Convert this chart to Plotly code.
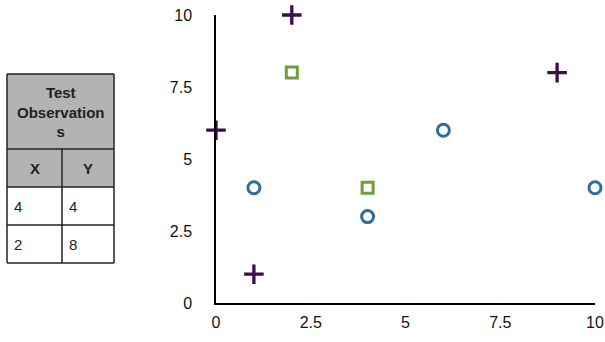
import plotly.graph_objects as go

plus_x = [0, 1, 2, 9]
plus_y = [6, 1, 10, 8]
circle_x = [1, 4, 6, 10]
circle_y = [4, 3, 6, 4]
square_x = [2, 4]
square_y = [8, 4]

table_title = "Test<br>Observation<br>s"
table_cols = ["X", "Y"]
table_x = [4, 2]
table_y = [4, 8]

tick_vals = [0, 2.5, 5, 7.5, 10]
tick_text = ["0", "2.5", "5", "7.5", "10"]

W, H = 605, 342
L, R, T, B = 216, 10, 15, 39
pw, ph = W - L - R, H - T - B

def px(x):
    return (x - L) / pw

def py(y):
    return (H - B - y) / ph

fig = go.Figure()
fig.add_trace(go.Scatter(x=plus_x, y=plus_y, mode="markers",
                         marker=dict(symbol="cross-thin", size=14, color="#3d0d4b",
                                     line=dict(width=3.3, color="#3d0d4b")),
                         cliponaxis=False, showlegend=False))
fig.add_trace(go.Scatter(x=circle_x, y=circle_y, mode="markers",
                         marker=dict(symbol="circle-open", size=12, color="#2f6e9b",
                                     line=dict(width=3)),
                         cliponaxis=False, showlegend=False))
fig.add_trace(go.Scatter(x=square_x, y=square_y, mode="markers",
                         marker=dict(symbol="square-open", size=11, color="#6ea13c",
                                     line=dict(width=3)),
                         cliponaxis=False, showlegend=False))

shapes = []
tx0, tx1, tmid = 7, 114, 62
ty = [74, 149, 187, 225, 263]
shapes.append(dict(type="rect", xref="paper", yref="paper",
                   x0=px(tx0), x1=px(tx1), y0=py(ty[2]), y1=py(ty[0]),
                   fillcolor="#b3b3b3", line=dict(width=0), layer="below"))
for yy in ty:
    shapes.append(dict(type="line", xref="paper", yref="paper",
                       x0=px(tx0), x1=px(tx1), y0=py(yy), y1=py(yy),
                       line=dict(color="#222", width=1.5)))
for xx in [tx0, tx1]:
    shapes.append(dict(type="line", xref="paper", yref="paper",
                       x0=px(xx), x1=px(xx), y0=py(ty[0]), y1=py(ty[-1]),
                       line=dict(color="#222", width=1.5)))
shapes.append(dict(type="line", xref="paper", yref="paper",
                   x0=px(tmid), x1=px(tmid), y0=py(ty[1]), y1=py(ty[-1]),
                   line=dict(color="#222", width=1.5)))

ann = []
fnt = "Liberation Sans, Arial, sans-serif"
tf = dict(family=fnt, size=15, color="#222")
ann.append(dict(xref="paper", yref="paper", x=px((tx0 + tx1) / 2), y=py((ty[0] + ty[1]) / 2),
                xanchor="center", yanchor="middle",
                text="<b>" + table_title + "</b>", showarrow=False,
                font=tf, align="center"))
for i, c in enumerate(table_cols):
    cx = (tx0 + tmid) / 2 if i == 0 else (tmid + tx1) / 2
    ann.append(dict(xref="paper", yref="paper", x=px(cx), y=py((ty[1] + ty[2]) / 2),
                    xanchor="center", yanchor="middle",
                    text="<b>" + c + "</b>", showarrow=False, font=tf))
for r in range(len(table_x)):
    ycen = (ty[2 + r] + ty[3 + r]) / 2
    ann.append(dict(xref="paper", yref="paper", x=px(tx0 + 5), y=py(ycen),
                    xanchor="left", yanchor="middle",
                    text=str(table_x[r]), showarrow=False, font=tf))
    ann.append(dict(xref="paper", yref="paper", x=px(tmid + 5), y=py(ycen),
                    xanchor="left", yanchor="middle",
                    text=str(table_y[r]), showarrow=False, font=tf))

fig.update_layout(
    width=W, height=H,
    margin=dict(l=L, r=R, t=T, b=B, autoexpand=False),
    paper_bgcolor="white", plot_bgcolor="white",
    shapes=shapes, annotations=ann,
    font=dict(family=fnt, size=16, color="#111"),
)
fig.update_xaxes(range=[0, 10], tickvals=tick_vals, ticktext=tick_text,
                 showgrid=False, zeroline=False, showline=True, linecolor="black",
                 linewidth=1.5, ticks="", ticklabelstandoff=4, automargin=False)
fig.update_yaxes(range=[0, 10], tickvals=tick_vals, ticktext=tick_text,
                 showgrid=False, zeroline=False, showline=True, linecolor="black",
                 linewidth=1.5, ticks="", ticklabelstandoff=19, automargin=False)

fig.write_html("out.html")
